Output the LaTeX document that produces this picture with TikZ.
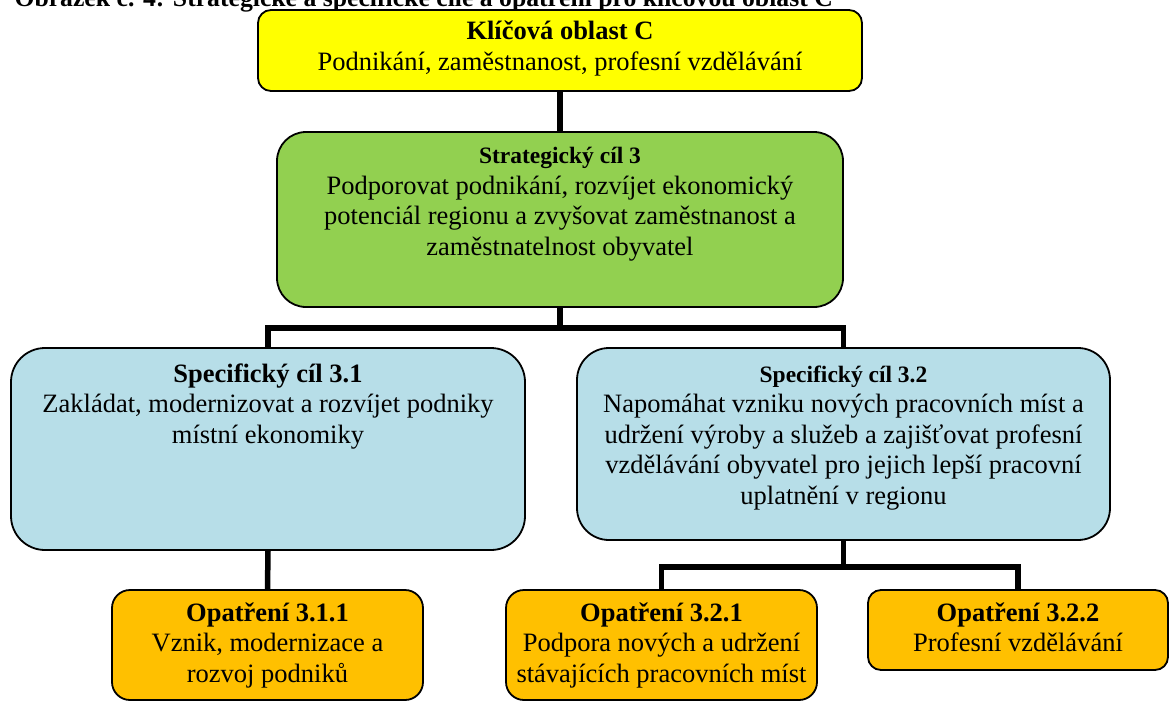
\documentclass[tikz,border=0pt]{standalone}
\usepackage{fontspec}
\setmainfont{Liberation Serif}
\usepackage{tikz}
\definecolor{klyellow}{HTML}{FFFF00}
\definecolor{scgreen}{HTML}{92D050}
\definecolor{spblue}{HTML}{B7DEE8}
\definecolor{oporange}{HTML}{FFC000}
\newcommand{\boxtext}[4]{\parbox[c][#1pt][t]{#2pt}{\centering\vspace*{#3pt}\strut #4}}
\newcommand{\smallhead}[1]{{\bfseries\fontsize{23.5}{30.5}\selectfont #1}}

\begin{document}
\begin{tikzpicture}[x=1pt,y=-1pt,
  box/.style={draw=black, line width=1.8pt, inner sep=0pt},
  conn/.style={draw=black, line width=5.5pt}]
\tikzstyle{every node}+=[font=\fontsize{26.5}{30.5}\selectfont]
\useasboundingbox (0,0) rectangle (1171,702);
\node [anchor=base west, font=\fontsize{25.7}{30}\selectfont\bfseries] (cap) at (11,6) {Obrázek č. 4: Strategické a specifické cíle a opatření pro klíčovou oblast C};
\node [box, fill=klyellow, minimum width=604pt, minimum height=81pt, rounded corners=13pt] (kl) at (560,50.5)
  {\boxtext{81}{594}{8.2}{\textbf{Klíčová oblast C}\\Podnikání, zaměstnanost, profesní vzdělávání}};
\node [box, fill=scgreen, minimum width=566pt, minimum height=175pt, rounded corners=29pt] (sc) at (560,219.5)
  {\boxtext{175}{556}{10.6}{\smallhead{Strategický cíl 3}\\Podporovat podnikání, rozvíjet ekonomický\\potenciál regionu a zvyšovat zaměstnanost a\\zaměstnatelnost obyvatel}};
\node [box, fill=spblue, minimum width=514pt, minimum height=202pt, rounded corners=34pt] (s1) at (268,449)
  {\boxtext{202}{504}{13}{\textbf{Specifický cíl 3.1}\\Zakládat, modernizovat a rozvíjet podniky\\místní ekonomiky}};
\node [box, fill=spblue, minimum width=533pt, minimum height=192pt, rounded corners=32pt] (s2) at (843.5,444)
  {\boxtext{192}{523}{13}{\smallhead{Specifický cíl 3.2}\\Napomáhat vzniku nových pracovních míst a\\udržení výroby a služeb a zajišťovat profesní\\vzdělávání obyvatel pro jejich lepší pracovní\\uplatnění v regionu}};
\node [box, fill=oporange, minimum width=311pt, minimum height=110pt, rounded corners=18pt] (o1) at (267.5,645)
  {\boxtext{110}{305}{10}{\textbf{Opatření 3.1.1}\\Vznik, modernizace a\\rozvoj podniků}};
\node [box, fill=oporange, minimum width=311pt, minimum height=110pt, rounded corners=18pt] (o2) at (661.5,645)
  {\boxtext{110}{305}{10}{\textbf{Opatření 3.2.1}\\Podpora nových a udržení\\stávajících pracovních míst}};
\node [box, fill=oporange, minimum width=300pt, minimum height=80pt, rounded corners=13pt] (o3) at (1018,630)
  {\boxtext{80}{294}{10}{\textbf{Opatření 3.2.2}\\Profesní vzdělávání}};
\coordinate (fork1) at (560,328);
\coordinate (fork2) at (843.5,567);
\draw [conn] (kl.south) -- (sc.north);
\draw [conn] (sc.south) -- (fork1);
\draw [conn] (s1.north) |- (fork1) -| (s2.north);
\draw [conn] (s1.south) -- (o1.north);
\draw [conn] (s2.south) -- (fork2);
\draw [conn] (o2.north) |- (fork2) -| (o3.north);
\end{tikzpicture}
\end{document}
